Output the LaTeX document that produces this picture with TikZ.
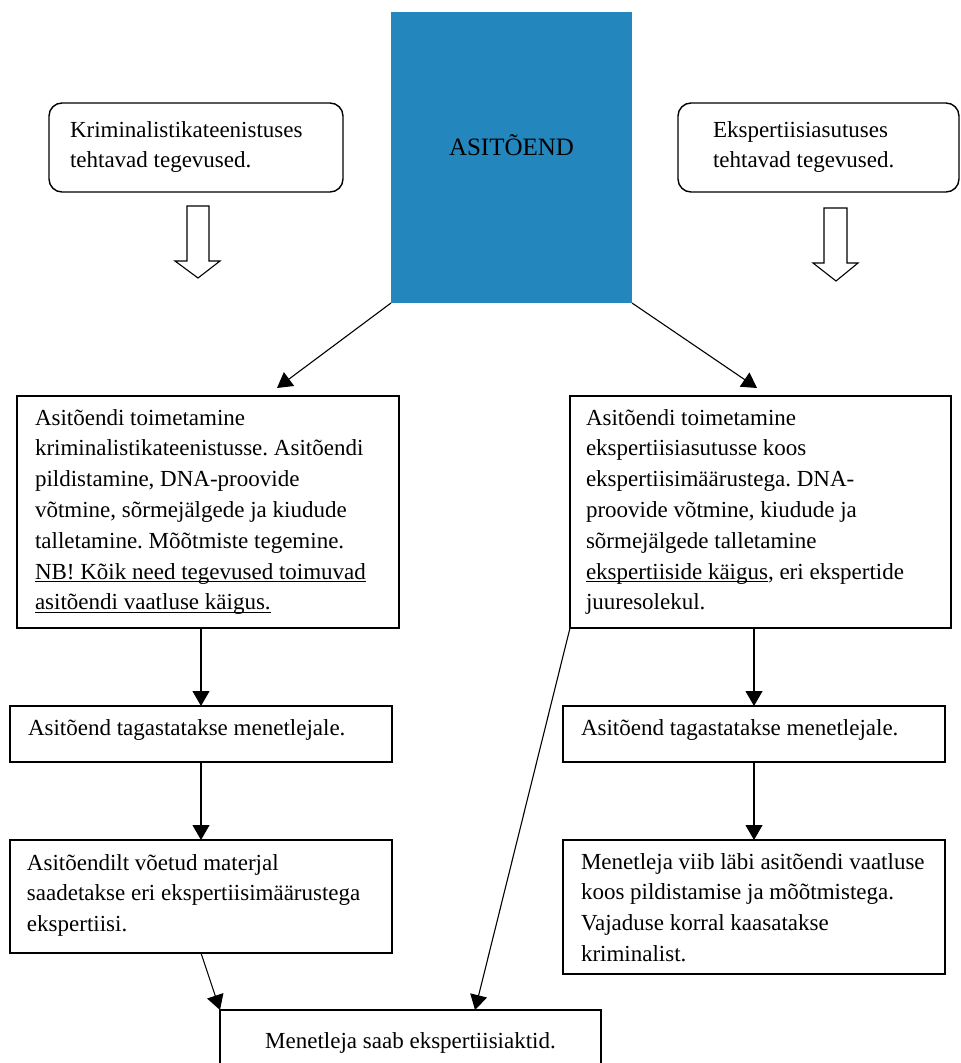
\documentclass[tikz,border=0pt]{standalone}
\usepackage{fontspec}
\setmainfont{Liberation Serif}
\usetikzlibrary{arrows.meta}
\definecolor{asiblue}{RGB}{35,135,190}
\frenchspacing
% underline set at a fixed depth below the baseline
\newsavebox\ulbox
\newcommand\undr[1]{\leavevmode\sbox\ulbox{#1}\rlap{\rule[-3.4pt]{\wd\ulbox}{1.1pt}}\usebox\ulbox}
% block of text whose baseline is the first line
\newcommand\boxlines[1]{\parbox[t]{440pt}{\raggedright #1}}

\begin{document}
\begin{tikzpicture}[x=1pt,y=-1pt,
  box/.style={draw, line width=1.4pt, rectangle, inner sep=0pt, outer sep=0pt, anchor=north west},
  rbox/.style={box, rounded corners=13pt},
  txt/.style={inner sep=0pt, outer sep=0pt, anchor=base west, font=\fontsize{23}{30.8}\selectfont},
  toptxt/.style={txt, font=\fontsize{23}{30}\selectfont},
  conn/.style={line width=1.1pt, -{Triangle[length=15pt,width=17pt]}},
  hollow/.style={draw, line width=1.1pt, fill=white, line join=miter}
]
\useasboundingbox (0,0) rectangle (961,1063);

% central evidence block
\node[fill=asiblue, inner sep=0pt, outer sep=0pt, minimum width=241pt, minimum height=291pt, anchor=north west] (asi) at (391,12) {};
\node[inner sep=0pt, anchor=base, font=\fontsize{25}{29}\selectfont] (asiT) at (511.5,155) {ASITÕEND};

% headings of the two branches
\node[rbox, minimum width=294pt, minimum height=89pt] (KT) at (49,103) {};
\node[toptxt] (KTt) at (70,137) {\boxlines{Kriminalistikateenistuses\\tehtavad tegevused.}};
\node[rbox, minimum width=281pt, minimum height=89pt] (EA) at (678,103) {};
\node[toptxt] (EAt) at (713,137) {\boxlines{Ekspertiisiasutuses\\tehtavad tegevused.}};

% hollow block arrows under the headings
\draw[hollow] (187,206) -- (187,261) -- (175,261) -- (198,278) -- (220,261) -- (209,261) -- (209,206) -- cycle;
\draw[hollow] (824,208) -- (824,263) -- (813,263) -- (836,281) -- (858,263) -- (847,263) -- (847,208) -- cycle;

% left column
\node[box, minimum width=382pt, minimum height=232pt] (L1) at (17,396) {};
\node[txt] (L1t) at (35,425) {\boxlines{Asitõendi toimetamine\\kriminalistikateenistusse. Asitõendi\\pildistamine, DNA-proovide\\võtmine, sõrmejälgede ja kiudude\\talletamine. Mõõtmiste tegemine.\\\undr{NB! Kõik need tegevused toimuvad}\\\undr{asitõendi vaatluse käigus.}}};

\node[box, minimum width=382pt, minimum height=56pt] (L2) at (10,706) {};
\node[txt] (L2t) at (28,735) {Asitõend tagastatakse menetlejale.};

\node[box, minimum width=382pt, minimum height=113pt] (L3) at (10,840) {};
\node[txt] (L3t) at (27,870) {\boxlines{Asitõendilt võetud materjal\\saadetakse eri ekspertiisimäärustega\\ekspertiisi.}};

% right column
\node[box, minimum width=381pt, minimum height=232pt] (R1) at (570,396) {};
\node[txt] (R1t) at (586,425) {\boxlines{Asitõendi toimetamine\\ekspertiisiasutusse koos\\ekspertiisimäärustega. DNA-\\proovide võtmine, kiudude ja\\sõrmejälgede talletamine\\\undr{ekspertiiside käigus}, eri ekspertide\\juuresolekul.}};

\node[box, minimum width=382pt, minimum height=56pt] (R2) at (563,706) {};
\node[txt] (R2t) at (581,735) {Asitõend tagastatakse menetlejale.};

\node[box, minimum width=382pt, minimum height=134pt] (R3) at (563,840) {};
\node[txt] (R3t) at (581,869) {\boxlines{Menetleja viib läbi asitõendi vaatluse\\koos pildistamise ja mõõtmistega.\\Vajaduse korral kaasatakse\\kriminalist.}};

% final step, running past the lower edge
\node[box, minimum width=381pt, minimum height=90pt] (B) at (220,1010) {};
\node[inner sep=0pt, anchor=base, font=\fontsize{23}{30.8}\selectfont] (Bt) at (410.5,1048) {Menetleja saab ekspertiisiaktid.};

% connectors
\coordinate (tipL) at (277,388);
\coordinate (tipR) at (757,388);
\coordinate (Bin) at (475,1010);
\draw[conn] (asi.south west) -- (tipL);
\draw[conn] (asi.south east) -- (tipR);
\draw[conn] (L1.south -| L2.north) -- (L2.north);
\draw[conn] (L2.south) -- (L3.north);
\draw[conn] (R1.south -| R2.north) -- (R2.north);
\draw[conn] (R2.south) -- (R3.north);
\draw[conn] (L3.south) -- (B.north west);
\draw[conn] (R1.south west) -- (Bin);
\end{tikzpicture}
\end{document}
